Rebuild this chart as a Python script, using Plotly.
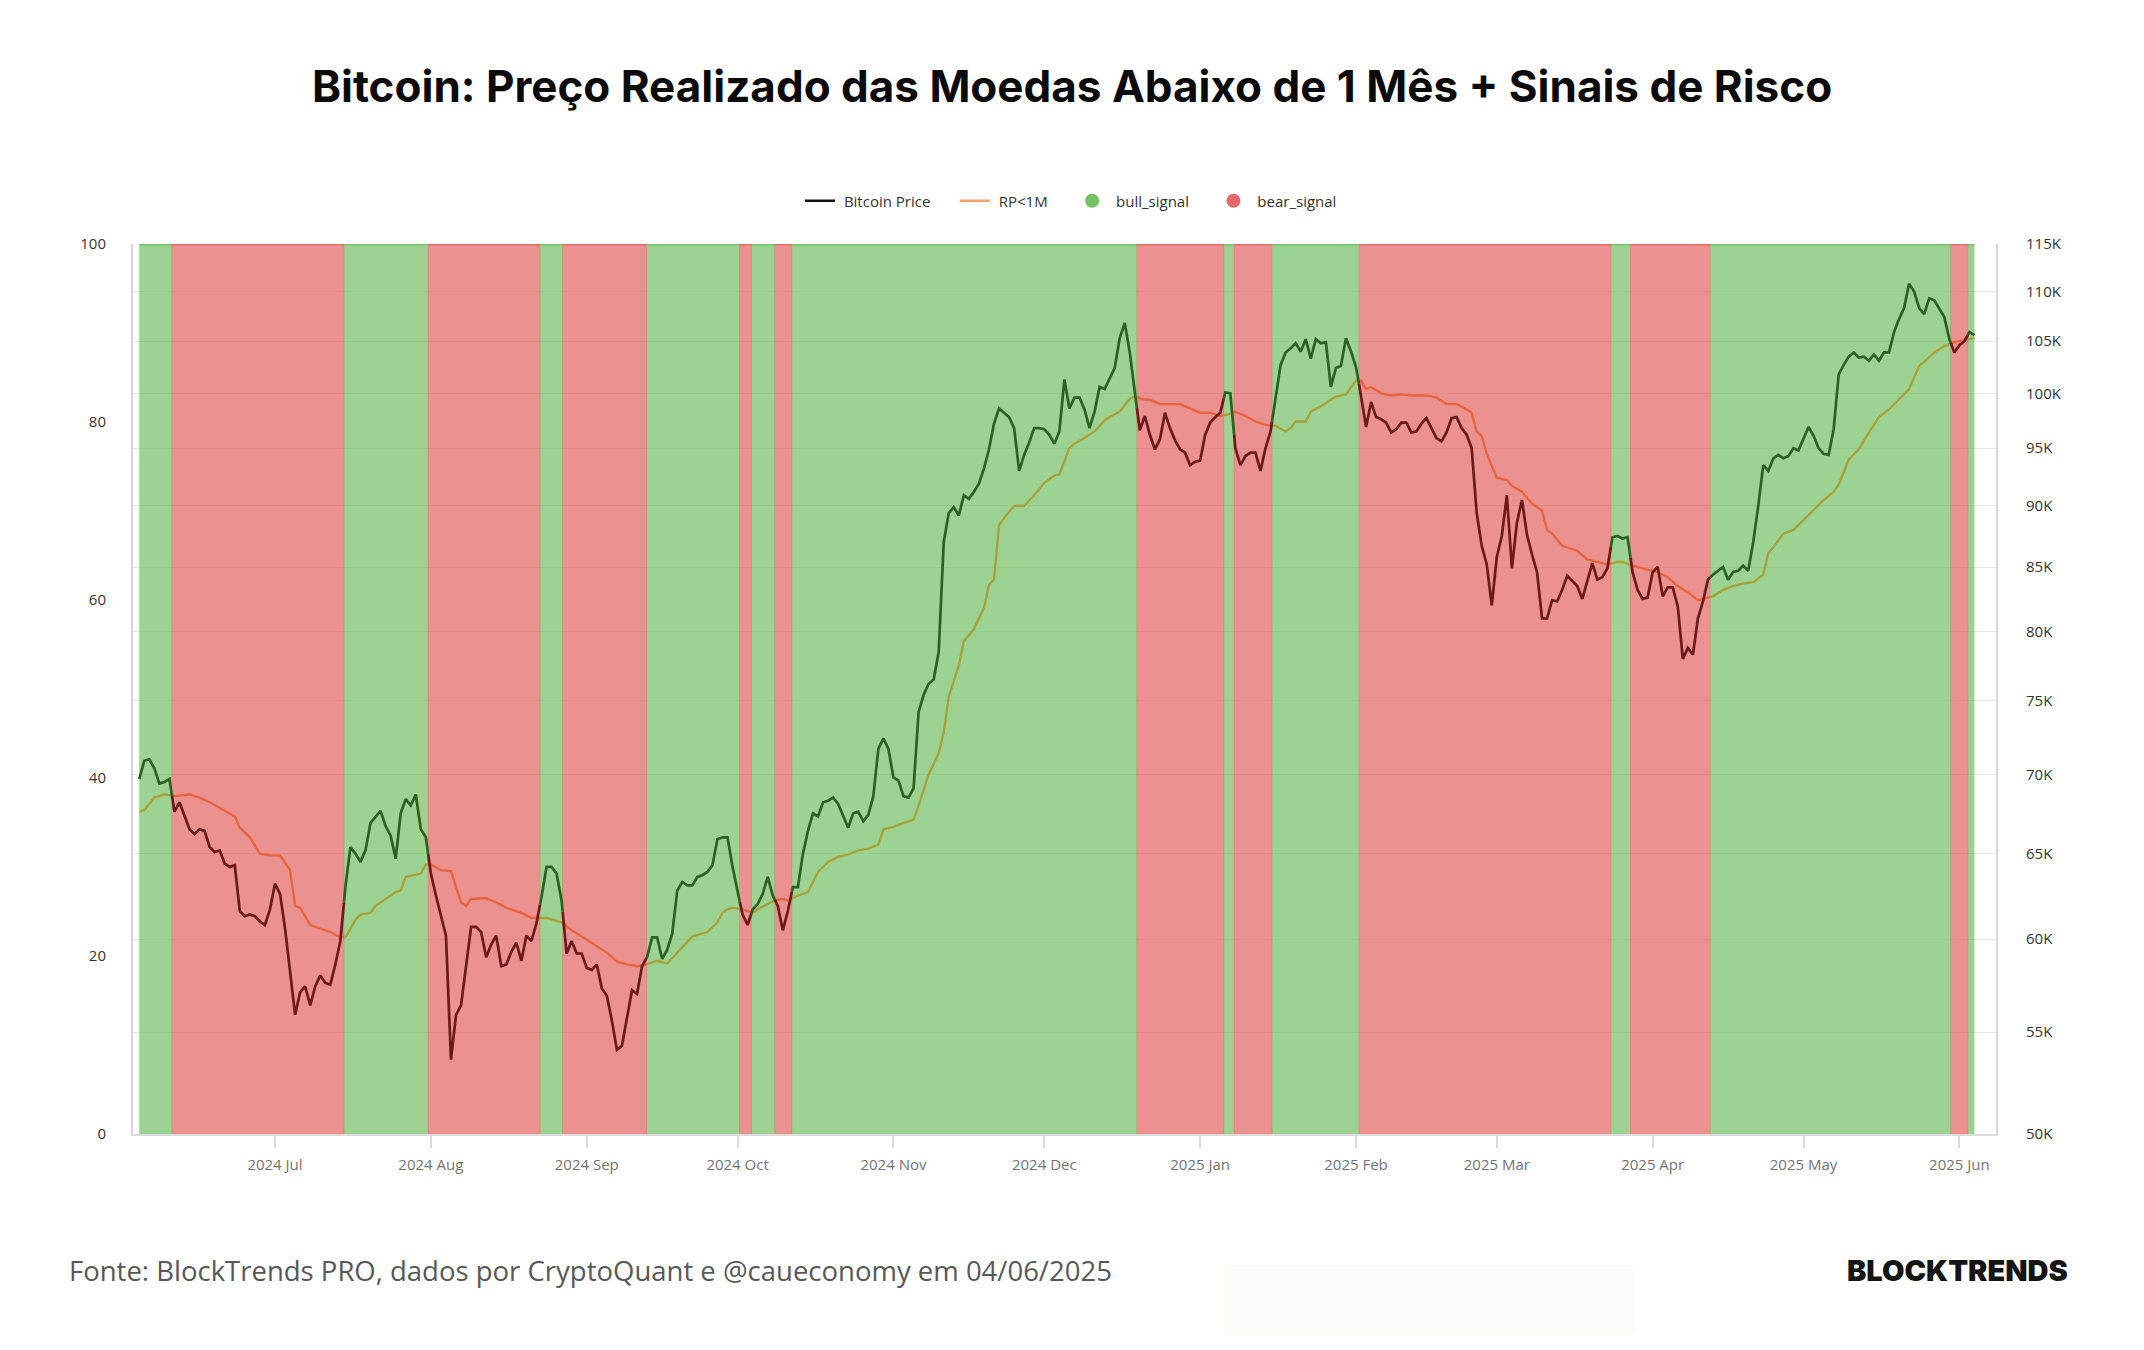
import numpy as np
import pandas as pd
import plotly.graph_objects as go

# ---------------- data ----------------
start_date = "2024-06-04"

# Bitcoin price, daily, in thousands of USD
btc_2024_06 = [69.7, 70.9, 71.0, 70.4, 69.4, 69.5, 69.7, 67.6, 68.2, 67.3, 66.5, 66.2, 66.5, 66.4,
               65.4, 65.1, 65.2, 64.4, 64.2, 64.3, 61.6, 61.3, 61.4, 61.3, 61.0, 60.8, 61.7]
btc_2024_07 = [63.2, 62.6, 60.6, 58.2, 55.9, 57.1, 57.4, 56.4, 57.4, 58.0, 57.6, 57.5, 58.6, 59.9,
               63.0, 65.4, 65.0, 64.5, 65.2, 66.9, 67.3, 67.65, 66.7, 66.1, 64.7, 67.5, 68.4, 68.0,
               68.7, 66.5, 66.0]
btc_2024_08 = [63.8, 62.5, 61.4, 60.2, 53.6, 55.9, 56.4, 58.4, 60.7, 60.7, 60.4, 59.0, 59.7, 60.2,
               58.5, 58.6, 59.3, 59.8, 58.8, 60.2, 59.9, 60.9, 62.4, 64.2, 64.2, 63.8, 62.2, 59.2,
               59.9, 59.2, 59.2]
btc_2024_09 = [58.4, 58.3, 58.6, 57.3, 56.9, 55.6, 54.1, 54.3, 55.7, 57.2, 57.0, 58.5, 59.0, 60.1,
               60.1, 58.9, 59.4, 60.3, 62.8, 63.3, 63.1, 63.1, 63.6, 63.7, 63.9, 64.3, 65.9, 66.0,
               66.0, 64.2]
btc_2024_10 = [62.7, 61.4, 60.8, 61.7, 62.0, 62.6, 63.6, 62.5, 61.9, 60.5, 61.6, 63.0, 63.0, 65.0,
               66.4, 67.5, 67.3, 68.2, 68.3, 68.5, 68.1, 67.3, 66.6, 67.5, 67.6, 67.0, 67.4, 68.6,
               71.7, 72.4, 71.7]
btc_2024_11 = [69.8, 69.6, 68.6, 68.5, 69.1, 74.2, 75.4, 76.2, 76.5, 78.5, 87.0, 89.4, 89.9, 89.2,
               90.9, 90.6, 91.2, 91.9, 93.2, 94.9, 97.2, 98.6, 98.2, 97.8, 96.8, 93.0, 94.4, 95.5,
               96.8, 96.8]
btc_2024_12 = [96.7, 96.2, 95.4, 96.5, 101.3, 98.6, 99.6, 99.6, 98.5, 96.8, 98.3, 100.6, 100.4,
               101.4, 102.4, 105.3, 106.8, 103.9, 100.1, 96.6, 97.9, 96.2, 94.9, 95.8, 98.2, 96.8,
               95.7, 94.9, 94.6, 93.5, 93.8]
btc_2025_01 = [93.9, 96.2, 97.3, 97.8, 98.2, 100.1, 100.0, 95.0, 93.5, 94.3, 94.6, 94.6, 93.0, 95.0,
               96.5, 99.6, 102.7, 103.9, 104.3, 104.8, 104.0, 105.2, 103.3, 105.2, 104.8, 104.9,
               100.6, 102.4, 102.6, 105.3, 104.0]
btc_2025_02 = [102.5, 99.8, 96.9, 99.2, 97.8, 97.6, 97.3, 96.4, 96.7, 97.3, 97.3, 96.4, 96.5, 97.2,
               97.7, 96.8, 95.9, 95.6, 96.4, 97.7, 97.8, 96.8, 96.2, 95.0, 89.4, 86.7, 85.2, 82.0]
btc_2025_03 = [85.8, 87.5, 90.9, 84.9, 88.6, 90.5, 87.6, 86.0, 84.6, 81.0, 81.0, 82.4, 82.3, 83.2,
               84.3, 83.9, 83.5, 82.5, 84.0, 85.3, 84.0, 84.2, 84.9, 87.4, 87.5, 87.3, 87.4, 84.6,
               83.2, 82.5, 82.6]
btc_2025_04 = [84.6, 85.0, 82.7, 83.4, 83.4, 81.9, 78.0, 78.8, 78.3, 81.0, 82.3, 84.0, 84.4, 84.7,
               85.0, 84.0, 84.6, 84.7, 85.1, 84.7, 87.0, 90.0, 93.5, 93.0, 94.1, 94.4, 94.1, 94.3,
               95.0, 94.8]
btc_2025_05 = [95.9, 96.9, 96.1, 95.0, 94.5, 94.4, 96.7, 101.8, 102.7, 103.5, 103.9, 103.4, 103.5,
               103.1, 103.7, 103.1, 103.9, 103.9, 105.9, 107.2, 108.3, 110.8, 110.0, 108.3, 107.7,
               109.3, 109.1, 108.3, 107.4, 105.2, 103.9]
btc_2025_06 = [104.6, 105.0, 105.9, 105.6]

btc_price_k = (btc_2024_06 + btc_2024_07 + btc_2024_08 + btc_2024_09 + btc_2024_10 + btc_2024_11
               + btc_2024_12 + btc_2025_01 + btc_2025_02 + btc_2025_03 + btc_2025_04 + btc_2025_05
               + btc_2025_06)

# Realized price of coins younger than 1 month (RP<1M), thousands of USD
rp_dates = ["2024-06-04", "2024-06-05", "2024-06-07", "2024-06-09", "2024-06-11", "2024-06-14",
            "2024-06-16", "2024-06-18", "2024-06-21", "2024-06-23", "2024-06-24", "2024-06-26",
            "2024-06-28", "2024-06-30", "2024-07-02", "2024-07-04", "2024-07-05", "2024-07-06",
            "2024-07-08", "2024-07-11", "2024-07-12", "2024-07-14", "2024-07-15", "2024-07-17",
            "2024-07-18", "2024-07-20", "2024-07-21", "2024-07-22", "2024-07-25", "2024-07-26",
            "2024-07-27", "2024-07-30", "2024-07-31", "2024-08-01", "2024-08-03", "2024-08-05",
            "2024-08-07", "2024-08-08", "2024-08-09", "2024-08-12", "2024-08-14", "2024-08-16",
            "2024-08-19", "2024-08-21", "2024-08-24", "2024-08-27", "2024-08-29", "2024-08-31",
            "2024-09-03", "2024-09-05", "2024-09-07", "2024-09-09", "2024-09-11", "2024-09-13",
            "2024-09-15", "2024-09-17", "2024-09-21", "2024-09-22", "2024-09-25", "2024-09-27",
            "2024-09-28", "2024-09-29", "2024-09-30", "2024-10-02", "2024-10-04", "2024-10-05",
            "2024-10-07", "2024-10-08", "2024-10-10", "2024-10-11", "2024-10-13", "2024-10-15",
            "2024-10-17", "2024-10-19", "2024-10-21", "2024-10-23", "2024-10-25", "2024-10-27",
            "2024-10-29", "2024-10-30", "2024-11-01", "2024-11-03", "2024-11-05", "2024-11-06",
            "2024-11-08", "2024-11-09", "2024-11-10", "2024-11-11", "2024-11-12", "2024-11-14",
            "2024-11-15", "2024-11-17", "2024-11-19", "2024-11-20", "2024-11-21", "2024-11-22",
            "2024-11-23", "2024-11-25", "2024-11-27", "2024-11-29", "2024-12-01", "2024-12-03",
            "2024-12-04", "2024-12-06", "2024-12-07", "2024-12-09", "2024-12-11", "2024-12-13",
            "2024-12-14", "2024-12-16", "2024-12-18", "2024-12-19", "2024-12-21", "2024-12-22",
            "2024-12-24", "2024-12-26", "2024-12-28", "2024-12-30", "2025-01-01", "2025-01-03",
            "2025-01-05", "2025-01-07", "2025-01-08", "2025-01-10", "2025-01-12", "2025-01-14",
            "2025-01-16", "2025-01-18", "2025-01-19", "2025-01-20", "2025-01-22", "2025-01-23",
            "2025-01-25", "2025-01-27", "2025-01-28", "2025-01-30", "2025-01-31", "2025-02-01",
            "2025-02-02", "2025-02-03", "2025-02-04", "2025-02-06", "2025-02-08", "2025-02-10",
            "2025-02-12", "2025-02-15", "2025-02-17", "2025-02-19", "2025-02-21", "2025-02-23",
            "2025-02-24", "2025-02-25", "2025-02-26", "2025-02-27", "2025-02-28", "2025-03-01",
            "2025-03-03", "2025-03-04", "2025-03-06", "2025-03-08", "2025-03-10", "2025-03-11",
            "2025-03-12", "2025-03-14", "2025-03-17", "2025-03-19", "2025-03-21", "2025-03-23",
            "2025-03-25", "2025-03-26", "2025-03-28", "2025-03-30", "2025-04-02", "2025-04-04",
            "2025-04-06", "2025-04-08", "2025-04-10", "2025-04-11", "2025-04-13", "2025-04-15",
            "2025-04-17", "2025-04-19", "2025-04-21", "2025-04-23", "2025-04-24", "2025-04-25",
            "2025-04-27", "2025-04-29", "2025-05-01", "2025-05-03", "2025-05-05", "2025-05-07",
            "2025-05-08", "2025-05-10", "2025-05-12", "2025-05-14", "2025-05-16", "2025-05-18",
            "2025-05-20", "2025-05-22", "2025-05-24", "2025-05-25", "2025-05-27", "2025-05-29",
            "2025-05-31", "2025-06-02", "2025-06-04"]
rp_k = [67.6, 67.7, 68.5, 68.7, 68.6, 68.7, 68.5, 68.2, 67.65, 67.3, 66.6, 66.0,
        65.0, 64.9, 64.9, 64.0, 61.9, 61.8, 60.8, 60.5, 60.4, 60.1, 60.1, 61.1,
        61.4, 61.5, 61.9, 62.1, 62.7, 62.8, 63.6, 63.8, 64.35, 64.35, 64.0, 63.95,
        62.1, 61.9, 62.3, 62.35, 62.1, 61.8, 61.5, 61.2, 61.2, 60.95, 60.5, 60.15,
        59.6, 59.25, 58.75, 58.6, 58.5, 58.6, 58.8, 58.65, 59.85, 60.15, 60.4, 60.95,
        61.5, 61.7, 61.8, 61.7, 61.5, 61.7, 62.0, 62.2, 62.3, 62.2, 62.5, 62.7,
        63.9, 64.5, 64.8, 64.95, 65.2, 65.3, 65.55, 66.5, 66.65, 66.9, 67.1, 68.0,
        70.0, 70.7, 71.4, 72.8, 75.3, 77.5, 79.3, 80.2, 81.8, 83.6, 84.0, 88.4,
        89.0, 90.0, 90.0, 90.9, 91.95, 92.6, 92.7, 95.0, 95.4, 95.9, 96.5, 97.5,
        97.8, 98.3, 99.5, 99.7, 99.4, 99.4, 99.0, 99.0, 99.0, 98.6, 98.2, 98.2,
        97.9, 98.1, 98.3, 97.9, 97.4, 97.1, 97.0, 96.5, 96.8, 97.4, 97.4, 98.3,
        98.8, 99.4, 99.7, 99.9, 100.6, 101.2, 101.2, 100.4, 100.6, 100.0, 99.8, 99.9,
        99.8, 99.8, 99.6, 99.0, 99.0, 98.5, 98.2, 96.5, 96.1, 94.5, 93.5, 92.4,
        92.2, 91.7, 91.2, 90.2, 89.6, 88.0, 87.7, 86.7, 86.3, 85.6, 85.4, 85.2,
        85.4, 85.4, 85.1, 84.9, 84.6, 84.2, 83.5, 83.0, 82.4, 82.5, 82.7, 83.2,
        83.5, 83.7, 83.8, 84.4, 86.1, 86.6, 87.7, 88.0, 88.8, 89.6, 90.5, 91.2,
        91.8, 94.0, 94.9, 96.4, 97.8, 98.5, 99.4, 100.4, 102.6, 103.0, 103.9, 104.5,
        104.9, 105.1, 105.3]

# Risk signal regimes: boundaries and the state of each span
signal_edges = ["2024-06-04 00:00", "2024-06-10 12:00", "2024-07-14 17:00", "2024-07-31 11:00",
                "2024-08-22 17:00", "2024-08-27 05:00", "2024-09-12 22:00", "2024-10-01 10:00",
                "2024-10-03 18:00", "2024-10-08 10:00", "2024-10-11 19:00", "2024-12-19 10:00",
                "2025-01-05 17:00", "2025-01-07 18:00", "2025-01-15 07:00", "2025-02-01 14:00",
                "2025-03-23 17:00", "2025-03-27 14:00", "2025-04-12 10:00", "2025-05-30 07:00",
                "2025-06-02 17:00", "2025-06-04 00:00"]
signal_states = ["bull", "bear", "bull", "bear", "bull", "bear", "bull", "bear", "bull", "bear",
                 "bull", "bear", "bull", "bear", "bull", "bear", "bull", "bear", "bull", "bear",
                 "bull"]

left_ticks = [0, 20, 40, 60, 80, 100]
price_ticks_k = [50, 55, 60, 65, 70, 75, 80, 85, 90, 95, 100, 105, 110, 115]

title_text = "Bitcoin: Preço Realizado das Moedas Abaixo de 1 Mês + Sinais de Risco"
source_text = "Fonte: BlockTrends PRO, dados por CryptoQuant e @caueconomy em 04/06/2025"
brand_text = "BLOCKTRENDS"
legend_names = ["Bitcoin Price", "RP<1M", "bull_signal", "bear_signal"]

# ---------------- geometry / style ----------------
W, H = 2144, 1350
ML, MR, MT, MB = 133, 148, 244, 216
PW, PH = W - ML - MR, H - MT - MB


def paper_x(px):
    return (px - ML) / PW


def paper_y(py):
    return (H - MB - py) / PH


GREEN_FILL = "rgba(115,193,100,0.70)"
RED_FILL = "rgba(226,98,96,0.70)"
GREEN_TOP = "rgb(118,196,104)"
RED_TOP = "rgb(226,108,108)"
PRICE_COL = {"bull": "#2b6221", "bear": "#6a1a1a"}
RP_COL = {"bull": "#a8a13a", "bear": "#e9643c"}

NB = "\u00a0"


def legend_label(name, last=False):
    return NB + name + ("" if last else NB * 5)


# ---------------- derived series ----------------
t0 = pd.Timestamp(start_date)


def to_days(ts):
    return (pd.Timestamp(ts) - t0) / pd.Timedelta(days=1)


def to_ts(d):
    return t0 + pd.Timedelta(days=float(d))


price_days = np.arange(len(btc_price_k), dtype=float)
price_log = np.log(np.array(btc_price_k) * 1000.0)
rp_days = np.array([to_days(d) for d in rp_dates])
rp_log = np.log(np.array(rp_k) * 1000.0)
edge_days = np.array([to_days(e) for e in signal_edges])


def split_by_signal(xd, yl):
    res = {"bull": ([], []), "bear": ([], [])}
    for k, st in enumerate(signal_states):
        a = max(edge_days[k], xd[0])
        b = min(edge_days[k + 1], xd[-1])
        if b <= a:
            continue
        inside = (xd > a) & (xd < b)
        xs = np.concatenate([[a], xd[inside], [b]])
        ys = np.concatenate([[np.interp(a, xd, yl)], yl[inside], [np.interp(b, xd, yl)]])
        X, Y = res[st]
        X.extend([to_ts(v) for v in xs])
        X.append(None)
        Y.extend(np.exp(ys).tolist())
        Y.append(None)
    return res


def band_shapes(state):
    xs, ys, tx, ty = [], [], [], []
    n = len(signal_states)
    for k, st in enumerate(signal_states):
        if st != state:
            continue
        a = edge_days[k] - (0.06 if k > 0 else 0.0)
        b = edge_days[k + 1] + (0.06 if k < n - 1 else 0.0)
        ta, tb = to_ts(a), to_ts(b)
        xs += [ta, ta, tb, tb, ta, None]
        ys += [0, 100, 100, 0, 0, None]
        tx += [to_ts(edge_days[k]), to_ts(edge_days[k + 1]), None]
        ty += [100, 100, None]
    return xs, ys, tx, ty


fig = go.Figure()

# legend entries
fig.add_trace(go.Scatter(x=[t0], y=[-50], mode="lines", name=legend_label(legend_names[0]),
                         line=dict(color="#111111", width=2.5), hoverinfo="skip"))
fig.add_trace(go.Scatter(x=[t0], y=[-50], mode="lines", name=legend_label(legend_names[1]),
                         line=dict(color="#f4a36b", width=2.5), hoverinfo="skip"))
fig.add_trace(go.Scatter(x=[t0], y=[-50], mode="markers", name=legend_label(legend_names[2]),
                         marker=dict(color="#73c264", size=14, symbol="circle"), hoverinfo="skip"))
fig.add_trace(go.Scatter(x=[t0], y=[-50], mode="markers",
                         name=legend_label(legend_names[3], last=True),
                         marker=dict(color="#e66a6a", size=14, symbol="circle"), hoverinfo="skip"))

# background signal bands (left 0-100 axis)
for state, fillc, topc in (("bull", GREEN_FILL, GREEN_TOP), ("bear", RED_FILL, RED_TOP)):
    bx, by, tx, ty = band_shapes(state)
    fig.add_trace(go.Scatter(x=bx, y=by, mode="lines", fill="toself", fillcolor=fillc,
                             line=dict(width=0, color=fillc), showlegend=False,
                             hoverinfo="skip", yaxis="y"))
    fig.add_trace(go.Scatter(x=tx, y=ty, mode="lines", line=dict(width=3, color=topc),
                             showlegend=False, hoverinfo="skip", yaxis="y"))

# RP<1M and price lines (right log axis), coloured by regime
rp_seg = split_by_signal(rp_days, rp_log)
pr_seg = split_by_signal(price_days, price_log)
for st in ("bull", "bear"):
    fig.add_trace(go.Scatter(x=rp_seg[st][0], y=rp_seg[st][1], mode="lines",
                             line=dict(color=RP_COL[st], width=2.3), showlegend=False,
                             hoverinfo="skip", yaxis="y2", connectgaps=False))
for st in ("bull", "bear"):
    fig.add_trace(go.Scatter(x=pr_seg[st][0], y=pr_seg[st][1], mode="lines",
                             line=dict(color=PRICE_COL[st], width=2.7), showlegend=False,
                             hoverinfo="skip", yaxis="y2", connectgaps=False))

# x range in time from pixel geometry (Jul 1 2024 at x=275, 5.028 px/day)
px_per_day = 5.028
jul1 = pd.Timestamp("2024-07-01")
x_start = jul1 + pd.Timedelta(days=(ML - 275) / px_per_day)
x_end = jul1 + pd.Timedelta(days=(W - MR - 275) / px_per_day)

axis_line = "#d6d6de"
fig.update_layout(
    width=W, height=H,
    margin=dict(l=ML, r=MR, t=MT, b=MB, pad=0),
    paper_bgcolor="white", plot_bgcolor="white",
    font=dict(family="Open Sans", color="#333333", size=14),
    hovermode=False,
    title=dict(text=title_text, x=0.5, xref="container", xanchor="center",
               y=1 - 87 / H, yref="container", yanchor="middle",
               font=dict(family="Inter", size=44, color="#0a0a0a", weight=700)),
    legend=dict(orientation="h", x=paper_x(1071), xanchor="center", y=paper_y(201),
                yanchor="middle", font=dict(family="Open Sans", size=15, color="#333333"),
                bgcolor="rgba(0,0,0,0)", itemwidth=30, traceorder="normal"),
    xaxis=dict(type="date", range=[x_start, x_end], tickformat="%Y %b", dtick="M1",
               tick0="2024-07-01", ticks="outside", ticklen=12, tickwidth=1.5,
               tickcolor="#dadada", showline=True, linecolor="#dcdcdc", linewidth=2,
               showgrid=False, zeroline=False, ticklabelstandoff=4,
               tickfont=dict(family="Open Sans", size=15, color="#737373")),
    yaxis=dict(range=[0, 100], tickvals=left_ticks, showgrid=False, zeroline=False,
               showline=True, linecolor=axis_line, linewidth=2, ticks="",
               ticklabelstandoff=22, tickfont=dict(family="Open Sans", size=15, color="#333333")),
    yaxis2=dict(type="log", range=[np.log10(50000), np.log10(115000)], side="right",
                overlaying="y", tickvals=[v * 1000 for v in price_ticks_k],
                ticktext=[f"{v}K" for v in price_ticks_k], showgrid=True,
                gridcolor="#e7e7e7", gridwidth=1, zeroline=False, showline=True,
                linecolor=axis_line, linewidth=2, ticks="", ticklabelstandoff=25,
                tickfont=dict(family="Open Sans", size=15, color="#333333")),
)

# footer
fig.add_shape(type="rect", xref="paper", yref="paper",
              x0=paper_x(1224), x1=paper_x(1634), y0=paper_y(1265), y1=paper_y(1333),
              fillcolor="#fbfbf8", line=dict(width=0), layer="below")
fig.add_annotation(text=source_text, xref="paper", yref="paper", x=paper_x(67), y=paper_y(1270),
                   xanchor="left", yanchor="middle", showarrow=False,
                   font=dict(family="Open Sans", size=27.5, color="#585858"))
fig.add_annotation(text=brand_text, xref="paper", yref="paper", x=paper_x(2070), y=paper_y(1270),
                   xanchor="right", yanchor="middle", showarrow=False,
                   font=dict(family="Inter", size=29, color="#141414", weight=900))

fig.write_html("out.html")
